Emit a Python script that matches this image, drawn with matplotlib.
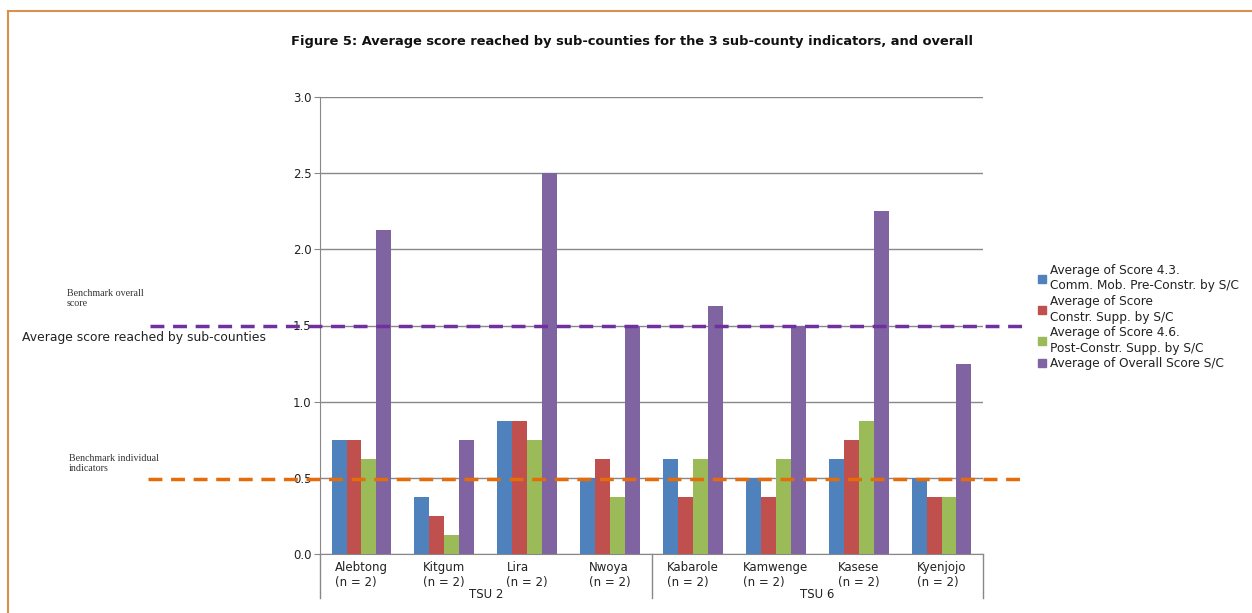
import matplotlib
matplotlib.use("Agg")
import matplotlib.pyplot as plt
import numpy as np
from matplotlib.lines import Line2D

categories = ["Alebtong", "Kitgum", "Lira", "Nwoya", "Kabarole", "Kamwenge", "Kasese", "Kyenjojo"]
n_labels = ["(n = 2)"] * 8
groups = ["TSU 2", "TSU 6"]
series_names = ["Average of Score 4.3.\nComm. Mob. Pre-Constr. by S/C",
                "Average of Score\nConstr. Supp. by S/C",
                "Average of Score 4.6.\nPost-Constr. Supp. by S/C",
                "Average of Overall Score S/C"]
s1 = [0.75, 0.375, 0.875, 0.5, 0.625, 0.5, 0.625, 0.5]
s2 = [0.75, 0.25, 0.875, 0.625, 0.375, 0.375, 0.75, 0.375]
s3 = [0.625, 0.125, 0.75, 0.375, 0.625, 0.625, 0.875, 0.375]
s4 = [2.125, 0.75, 2.5, 1.5, 1.625, 1.5, 2.25, 1.25]
bench_overall = 1.5
bench_individual = 0.5
yticks = [0.0, 0.5, 1.0, 1.5, 2.0, 2.5, 3.0]

colors = ["#4F81BD", "#C0504D", "#9BBB59", "#8064A2"]
font = "DejaVu Sans"
plt.rcParams['font.family'] = [font]

W, H = 1252, 613
fig = plt.figure(figsize=(W/100, H/100), dpi=100)
ax = fig.add_axes([320/W, 1-554/H, (983-320)/W, (554-97)/H])

x = np.arange(len(categories))
bw = 0.18
for i, s in enumerate([s1, s2, s3, s4]):
    ax.bar(x + (i-1.5)*bw, s, bw, color=colors[i], label=series_names[i], zorder=3)

ax.set_xlim(-0.5, len(categories)-0.5)
ax.set_ylim(0, 3.0)
ax.set_yticks(yticks)
ax.set_yticklabels([f"{v:.1f}" for v in yticks], fontsize=8.5, color="#222222")
ax.yaxis.grid(True, color="#888888", linewidth=1.0, zorder=0)
ax.set_axisbelow(True)
for sp in ["top", "right"]:
    ax.spines[sp].set_visible(False)
ax.spines["left"].set_color("#888888")
ax.spines["bottom"].set_color("#888888")
ax.tick_params(axis="y", length=4, color="#888888", pad=2)
ax.set_xticks([])

# category labels
for xi, c, n in zip(x, categories, n_labels):
    ax.text(xi, -0.045, c + "\n" + n, ha="center", va="top", multialignment="left",
            fontsize=8.5, color="#222222", linespacing=1.2)
# group labels and separators
ax.text(1.5, -0.225, groups[0], ha="center", va="top", fontsize=8.5, color="#222222")
ax.text(5.5, -0.225, groups[1], ha="center", va="top", fontsize=8.5, color="#222222")
for bx in [-0.5, 3.5, 7.5]:
    ax.plot([bx, bx], [0, -0.29], color="#888888", linewidth=1.0, clip_on=False)

# benchmark lines extending beyond axes
ax.axhline(bench_overall, xmin=(150-320)/663, xmax=(1025-320)/663, color="#7030A0",
           linestyle=(0, (4, 2.5)), linewidth=2.5, clip_on=False, zorder=4)
ax.axhline(bench_individual - 0.01, xmin=(148-320)/663, xmax=(1022-320)/663, color="#E46C0A",
           linestyle=(0, (4, 2.5)), linewidth=2.5, clip_on=False, zorder=4)

# texts
fig.text(632/W, 1-41/H, "Figure 5: Average score reached by sub-counties for the 3 sub-county indicators, and overall",
         ha="center", va="center", fontsize=9.35, fontweight="bold", color="#111111")
fig.text(22/W, 1-338/H, "Average score reached by sub-counties", ha="left", va="center",
         fontsize=8.9, color="#222222")
fig.text(67/W, 1-298.5/H, "Benchmark overall\nscore", ha="left", va="center",
         fontsize=7.2, family="Liberation Serif", color="#333333", linespacing=1.25)
fig.text(69/W, 1-463.5/H, "Benchmark individual\nindicators", ha="left", va="center",
         fontsize=7.2, family="Liberation Serif", color="#333333", linespacing=1.25)

# legend
handles = [Line2D([0], [0], marker="s", linestyle="none", markersize=6, markerfacecolor=c,
                  markeredgecolor=c) for c in colors]
leg = fig.legend(handles, series_names, loc="upper left", bbox_to_anchor=(1031/W, 1-258/H),
                 frameon=False, fontsize=8.7, handlelength=0.8, handletextpad=0.3,
                 labelspacing=0.22, borderpad=0)
for t in leg.get_texts():
    t.set_linespacing(1.24)
    t.set_color("#222222")

# border
fig.add_artist(Line2D([8/W, 8/W], [0, 1-11/H], color="#D9904A", linewidth=1.5))
fig.add_artist(Line2D([8/W, 1], [1-11/H, 1-11/H], color="#D9904A", linewidth=1.5))

fig.savefig("out.png", dpi=100)
